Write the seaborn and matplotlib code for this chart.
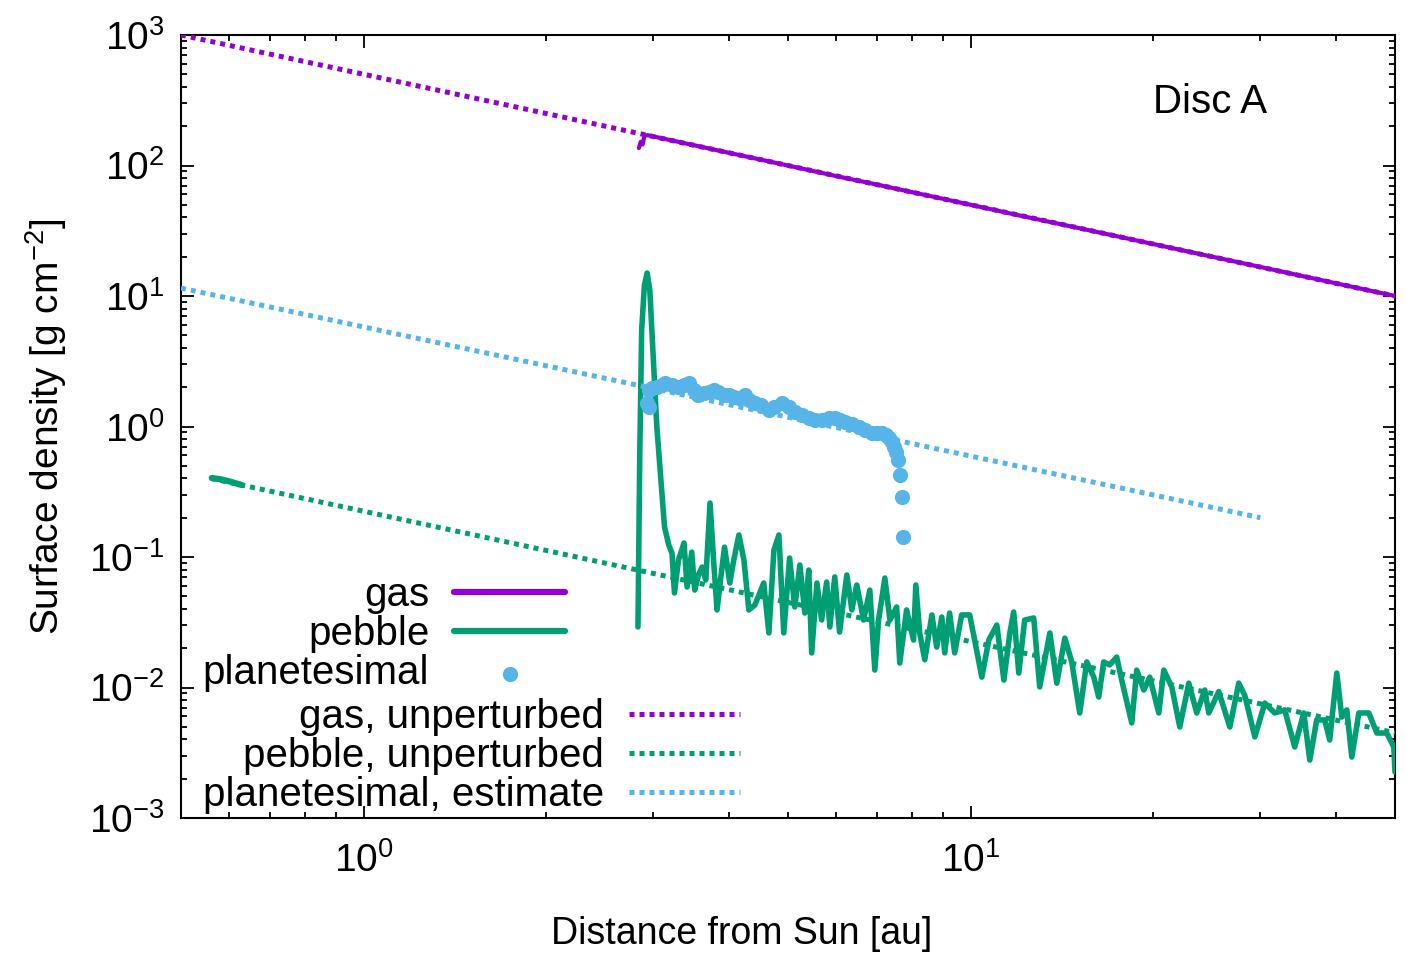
import numpy as np
import matplotlib
matplotlib.use("Agg")
import matplotlib.pyplot as plt
import seaborn as sns
from matplotlib.ticker import LogLocator, NullFormatter

# ---------------- data ----------------
gas_r = [2.84, 2.86, 2.88, 2.90, 2.93, 3.0, 3.5, 4.0, 5.0, 6.0, 7.0, 8.0,
         10.0, 12.0, 15.0, 20.0, 25.0, 30.0, 40.0, 50.0]
gas_sigma = [136, 152, 145, 168, 171, 167, 143, 125, 100, 83, 71.5, 62.5,
             50, 41.5, 33.3, 25, 20, 16.7, 12.5, 10.0]

pebble_inner_r = [0.562, 0.58, 0.60, 0.63]
pebble_inner_sigma = [0.403, 0.395, 0.380, 0.356]

pebble_r = [2.83, 2.85, 2.87, 2.90, 2.93, 2.96, 3.00, 3.04, 3.10, 3.13, 3.18, 3.22,
            3.25, 3.30, 3.37, 3.41, 3.47, 3.51, 3.56, 3.61, 3.66, 3.72, 3.77, 3.82,
            3.87, 3.93, 4.01, 4.07, 4.15, 4.23, 4.31, 4.41, 4.56, 4.65, 4.74, 4.83,
            4.92, 5.03, 5.13, 5.23, 5.33, 5.41, 5.47, 5.58, 5.68, 5.79, 5.86, 5.97,
            6.08, 6.25, 6.37, 6.49, 6.66, 6.82, 6.95, 7.05, 7.22, 7.36, 7.55, 7.64,
            7.84, 8.05, 8.12, 8.24, 8.40, 8.63, 8.79, 8.96, 9.06, 9.23, 9.41, 9.66,
            9.96, 10.15, 10.43, 10.71, 11.04, 11.34, 11.60, 11.77, 12.00, 12.27, 12.70, 12.99,
            13.50, 13.86, 14.29, 14.67, 15.12, 15.53, 15.95, 16.25, 16.56, 16.94, 17.40, 17.73,
            18.42, 18.77, 19.28, 19.72, 20.41, 20.80, 21.44, 22.10, 22.87, 23.57, 24.30, 24.67,
            25.62, 26.72, 27.64, 28.28, 29.38, 30.51, 31.68, 32.91, 34.18, 35.37, 36.19, 37.15,
            38.30, 39.03, 40.09, 40.86, 41.65, 42.44, 43.59, 45.27, 46.67, 48.46, 49.77, 50.0]
pebble_sigma = [0.0291, 0.661, 5.49, 12.1, 15.0, 11.1, 3.23, 0.991, 0.309, 0.170, 0.124, 0.107,
                0.0530, 0.0948, 0.128, 0.0589, 0.109, 0.0558, 0.0728, 0.0838, 0.0667, 0.259, 0.0948, 0.0393,
                0.0667, 0.119, 0.0632, 0.0948, 0.1475, 0.0948, 0.0393, 0.0429, 0.0632, 0.0262, 0.113, 0.1475,
                0.0262, 0.0982, 0.0414, 0.0869, 0.0372, 0.0794, 0.0184, 0.0632, 0.0329, 0.0643, 0.0291, 0.0703,
                0.0266, 0.0728, 0.0393, 0.0610, 0.0329, 0.0558, 0.0136, 0.0329, 0.0690, 0.0329, 0.0414, 0.0154,
                0.0393, 0.0231, 0.0610, 0.0262, 0.0163, 0.0360, 0.0204, 0.0347, 0.0184, 0.0372, 0.0184, 0.0360,
                0.0360, 0.0231, 0.0120, 0.0231, 0.0301, 0.0114, 0.0262, 0.0379, 0.0129, 0.0329, 0.0341, 0.0101,
                0.0262, 0.0108, 0.0239, 0.0157, 0.00638, 0.0157, 0.0120, 0.00845, 0.0157, 0.0149, 0.0171, 0.0114,
                0.00535, 0.0136, 0.00957, 0.0120, 0.00638, 0.0136, 0.0101, 0.00498, 0.0108, 0.00638, 0.00957, 0.00638,
                0.0093, 0.00498, 0.0108, 0.0087, 0.00418, 0.0076, 0.00638, 0.00673, 0.0035, 0.00638, 0.00278, 0.00564,
                0.00564, 0.00396, 0.0129, 0.00594, 0.00673, 0.00293, 0.00638, 0.00638, 0.00448, 0.00448, 0.0035, 0.00225]

plan_r = [2.93, 2.95, 2.95, 2.98, 3.04, 3.10, 3.13, 3.22, 3.30, 3.37, 3.43, 3.50,
          3.56, 3.63, 3.70, 3.77, 3.84, 3.92, 3.99, 4.07, 4.15, 4.24, 4.32, 4.41,
          4.52, 4.65, 4.75, 4.88, 5.01, 5.13, 5.27, 5.41, 5.53, 5.68, 5.84, 5.97,
          6.08, 6.20, 6.37, 6.54, 6.69, 6.87, 7.00, 7.13, 7.24, 7.33, 7.41, 7.47,
          7.52, 7.58, 7.64, 7.70, 7.73]
plan_sigma = [1.51, 1.41, 1.91, 1.97, 2.01, 2.08, 2.15, 2.08, 2.01, 2.08, 2.15, 1.91,
              1.74, 1.81, 1.84, 1.91, 1.84, 1.74, 1.74, 1.68, 1.65, 1.74, 1.60, 1.51,
              1.46, 1.34, 1.41, 1.51, 1.41, 1.29, 1.22, 1.16, 1.12, 1.12, 1.16, 1.16,
              1.12, 1.08, 1.05, 0.991, 0.940, 0.892, 0.892, 0.892, 0.861, 0.817, 0.761, 0.697,
              0.638, 0.554, 0.425, 0.288, 0.142]

gas0_r = [0.5, 50.0]
gas0_sigma = [1000.0, 10.0]
pebble0_r = [0.56, 50.0]
pebble0_sigma = [0.40, 0.0045]
plan_est_r = [0.5, 30.0]
plan_est_sigma = [11.5, 0.20]

labels_main = ["gas", "pebble", "planetesimal"]
labels_ref = ["gas, unperturbed", "pebble, unperturbed", "planetesimal, estimate"]

C_GAS = "#9400D3"
C_PEB = "#009E73"
C_PLAN = "#56B4E9"

# ---------------- style ----------------
sns.set_theme(style="ticks")
plt.rcParams["font.family"] = ["Liberation Sans", "DejaVu Sans"]
plt.rcParams["mathtext.default"] = "regular"
for k in ["text.color", "axes.labelcolor", "xtick.color", "ytick.color", "axes.edgecolor"]:
    plt.rcParams[k] = "black"
plt.rcParams["axes.linewidth"] = 1.5

fig = plt.figure(figsize=(14.07, 9.56), dpi=100)
ax = fig.add_axes([181 / 1407, 1 - 818 / 956, (1395 - 181) / 1407, (818 - 35) / 956])
ax.set_xscale("log")
ax.set_yscale("log")

dot = (0, (1, 1))

sns.lineplot(x=gas_r, y=gas_sigma, ax=ax, color=C_GAS, lw=3.0, estimator=None,
             sort=False, label=labels_main[0], zorder=3)
sns.lineplot(x=pebble_r, y=pebble_sigma, ax=ax, color=C_PEB, lw=4.0, estimator=None,
             sort=False, label=labels_main[1], zorder=3)
sns.lineplot(x=pebble_inner_r, y=pebble_inner_sigma, ax=ax, color=C_PEB, lw=4.5,
             estimator=None, sort=False, zorder=3)
sns.scatterplot(x=plan_r, y=plan_sigma, ax=ax, color=C_PLAN, s=120, linewidth=0,
                label=labels_main[2], zorder=4)
sns.lineplot(x=gas0_r, y=gas0_sigma, ax=ax, color=C_GAS, lw=3.6, linestyle=dot,
             estimator=None, sort=False, label=labels_ref[0], zorder=5)
sns.lineplot(x=pebble0_r, y=pebble0_sigma, ax=ax, color=C_PEB, lw=3.6, linestyle=dot,
             estimator=None, sort=False, label=labels_ref[1], zorder=5)
sns.lineplot(x=plan_est_r, y=plan_est_sigma, ax=ax, color=C_PLAN, lw=3.6, linestyle=dot,
             estimator=None, sort=False, label=labels_ref[2], zorder=5)

ax.set_xlim(0.5, 50)
ax.set_ylim(1e-3, 1e3)

for axis in (ax.xaxis, ax.yaxis):
    axis.set_major_locator(LogLocator(base=10, numticks=20))
    axis.set_minor_locator(LogLocator(base=10, subs=np.arange(2, 10), numticks=100))
    axis.set_minor_formatter(NullFormatter())

ax.tick_params(which="both", direction="in", top=True, right=True, width=1.3)
ax.tick_params(which="major", length=9)
ax.tick_params(which="minor", length=4.5)
ax.tick_params(axis="x", which="major", labelsize=28, pad=17)
ax.tick_params(axis="y", which="major", labelsize=28, pad=12)

ax.set_xlabel("Distance from Sun [au]", fontsize=27)
ax.set_ylabel("Surface density [g cm$^{-2}$]", fontsize=28)
ax.xaxis.set_label_coords(0.462, -0.125)
ax.yaxis.set_label_coords(-0.092, 0.5)

ax.text(0.8007, 0.9144, "Disc A", transform=ax.transAxes, fontsize=29,
        ha="left", va="center")

# legends (gnuplot style: label right-aligned, sample on the right)
h, l = ax.get_legend_handles_labels()
hd = dict(zip(l, h))
if ax.get_legend() is not None:
    ax.get_legend().remove()

common = dict(frameon=False, markerfirst=False, fontsize=29, borderpad=0,
              borderaxespad=0, handletextpad=0.62, labelspacing=0.03,
              handlelength=2.75, scatterpoints=1, loc="upper right")
leg1 = ax.legend([hd[k] for k in labels_main], labels_main,
                 bbox_to_anchor=((565 - 181) / 1214, (818 - 576) / 783), **common)
ax.add_artist(leg1)
leg2 = ax.legend([hd[k] for k in labels_ref], labels_ref,
                 bbox_to_anchor=((740 - 181) / 1214, (818 - 698) / 783), **common)
for lg in (leg1, leg2):
    for line in lg.get_lines():
        line.set_linewidth(4.5 if line.get_linestyle() == "-" else 3.6)

fig.savefig("out.png", dpi=100)
